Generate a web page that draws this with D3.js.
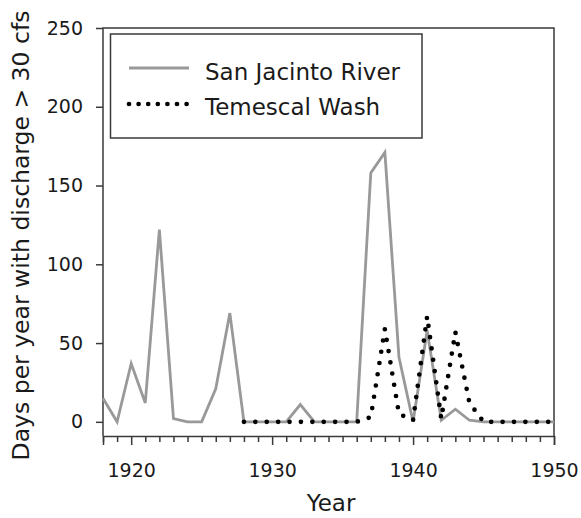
<!DOCTYPE html>
<html><head><meta charset="utf-8">
<script src="https://cdn.jsdelivr.net/npm/d3@7"></script>
<style>body{margin:0;background:#fff} svg{display:block}</style>
</head><body>
<svg id="c" width="581" height="518"></svg>
<script>
// ---- data ----
const yearsSJ = [1918,1919,1920,1921,1922,1923,1924,1925,1926,1927,1928,1929,1930,1931,1932,1933,1934,1935,1936,1937,1938,1939,1940,1941,1942,1943,1944,1945,1946,1947,1948,1949,1950];
const sanJacinto = [15,0,37,12,122,2,0,0,21,69,0,0,0,0,11,0,0,0,0,158,171,41,0,58,1,8,1,0,0,0,0,0,0];
const yearsTW = [1928,1929,1930,1931,1932,1933,1934,1935,1936,1937,1938,1939,1940,1941,1942,1943,1944,1945,1946,1947,1948,1949,1950];
const temescal = [0,0,0,0,0,0,0,0,0,3,59,5,1,67,2,57,12,0,0,0,0,0,0];
const yTicks = [0,50,100,150,200,250];
const xMajorTicks = [1920,1930,1940,1950];
const xMinorTicks = [1918,1919,1921,1922,1923,1924,1925,1926,1927,1928,1929,1931,1932,1933,1934,1935,1936,1937,1938,1939,1941,1942,1943,1944,1945,1946,1947,1948,1949];
const seriesNames = ["San Jacinto River","Temescal Wash"];
const xLabel = "Year";
const yLabel = "Days per year with discharge > 30 cfs";

// ---- layout ----
const FONT = "'DejaVu Sans', Verdana, sans-serif";
const TXT = "#1a1a1a";
const FRAME = "#3a3a3a";
const svg = d3.select("#c");
const x = d3.scaleLinear().domain([1918,1950]).range([103,554]);
const y = d3.scaleLinear().domain([-9,250]).range([436,28]);
const floorY = y.range()[0];

// frame: left, top, right
svg.append("path")
  .attr("d", `M${x(1918)},${floorY}V${y(250)}H${x(1950)}V${floorY}`)
  .attr("fill","none").attr("stroke",FRAME).attr("stroke-width",1.5);

// y axis
const gy = svg.append("g").attr("transform",`translate(${x(1918)},0)`)
  .call(d3.axisLeft(y).tickValues(yTicks).tickSize(7).tickPadding(13));
gy.select(".domain").remove();
gy.selectAll(".tick line").attr("stroke",FRAME).attr("stroke-width",1.5);
gy.selectAll(".tick text").attr("font-family",FONT).attr("font-size",19).attr("fill",TXT);

// x axis
const gx = svg.append("g").attr("transform",`translate(0,${floorY})`)
  .call(d3.axisBottom(x).tickValues(xMajorTicks).tickFormat(d3.format("d")).tickSize(9).tickPadding(19));
gx.select(".domain").attr("stroke",FRAME).attr("stroke-width",1.5);
gx.selectAll(".tick line").attr("stroke",FRAME).attr("stroke-width",1.5);
gx.selectAll(".tick text").attr("font-family",FONT).attr("font-size",19).attr("fill",TXT);
const gxm = svg.append("g").attr("transform",`translate(0,${floorY})`)
  .call(d3.axisBottom(x).tickValues(xMinorTicks).tickFormat("").tickSize(6));
gxm.select(".domain").remove();
gxm.selectAll(".tick line").attr("stroke",FRAME).attr("stroke-width",1.5);

// axis titles
svg.append("text").attr("x",331).attr("y",511).attr("text-anchor","middle")
  .attr("font-family",FONT).attr("font-size",23).attr("fill",TXT).text(xLabel);
svg.append("text").attr("transform","translate(29,235.5) rotate(-90)").attr("text-anchor","middle")
  .attr("font-family",FONT).attr("font-size",23.5).attr("fill",TXT).text(yLabel);

// lines
const line = d3.line().x(d=>x(d[0])).y(d=>y(d[1]));
svg.append("path").datum(yearsSJ.map((yr,i)=>[yr,sanJacinto[i]]))
  .attr("d",line).attr("fill","none").attr("stroke","#999").attr("stroke-width",2.8)
  .attr("stroke-linejoin","miter");
svg.append("path").datum(yearsTW.map((yr,i)=>[yr,temescal[i]]))
  .attr("d",line).attr("fill","none").attr("stroke","#000").attr("stroke-width",4.7)
  .attr("stroke-linecap","round").attr("stroke-dasharray","0 11.4");

// legend
const lg = svg.append("g");
lg.append("rect").attr("x",110.5).attr("y",34).attr("width",311.5).attr("height",104)
  .attr("fill","#fff").attr("stroke",FRAME).attr("stroke-width",1.5);
lg.append("line").attr("x1",129).attr("x2",189).attr("y1",68).attr("y2",68)
  .attr("stroke","#999").attr("stroke-width",2.8);
lg.append("line").attr("x1",129).attr("x2",187).attr("y1",104).attr("y2",104)
  .attr("stroke","#000").attr("stroke-width",4.7).attr("stroke-linecap","round").attr("stroke-dasharray","0 9.6");
lg.selectAll("text.lab").data(seriesNames).join("text").attr("class","lab")
  .attr("x",205).attr("y",(d,i)=>i===0?79.5:115)
  .attr("font-family",FONT).attr("font-size",23).attr("fill",TXT).text(d=>d);
</script>
</body></html>
